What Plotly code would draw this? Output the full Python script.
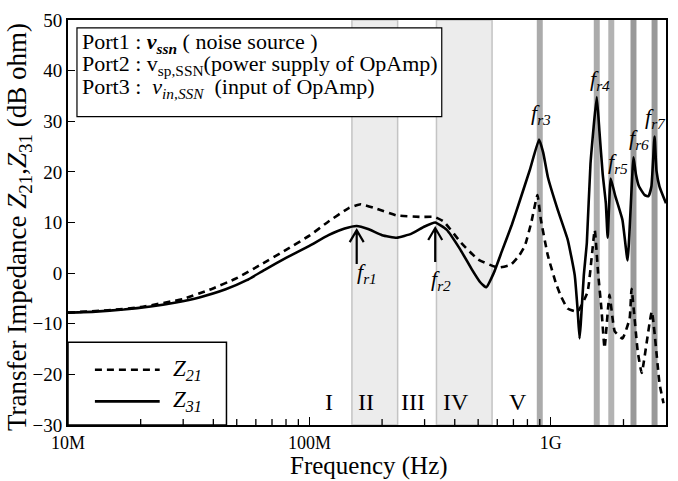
import math
import plotly.graph_objects as go

# ---------------- data ----------------
freq_z31 = [1.0e7, 1.3e7, 1.7e7, 2.2e7, 2.8e7, 3.5e7, 4.5e7, 5.5e7, 6.5e7, 8.0e7,
            1.0e8, 1.2e8, 1.4e8, 1.57e8, 1.75e8, 2.0e8, 2.3e8, 2.65e8, 3.0e8, 3.32e8,
            3.7e8, 4.2e8, 4.7e8, 5.1e8, 5.4e8, 5.8e8, 6.3e8, 6.9e8, 7.45e8, 8.2e8,
            8.94e8, 9.3e8, 9.72e8, 1.07e9, 1.175e9, 1.256e9, 1.29e9, 1.315e9, 1.33e9, 1.37e9,
            1.41e9, 1.46e9, 1.55e9, 1.59e9, 1.64e9, 1.69e9, 1.72e9, 1.77e9, 1.85e9, 1.98e9,
            2.08e9, 2.2e9, 2.25e9, 2.32e9, 2.45e9, 2.54e9, 2.61e9, 2.69e9, 2.74e9, 2.82e9,
            3.0e9]
z31 = [-7.8, -7.6, -7.2, -6.6, -5.8, -4.8, -3.2, -1.4, 0.6, 3.0,
       5.4, 7.5, 8.8, 9.3, 8.7, 7.5, 7.0, 7.8, 9.2, 10.0,
       8.6, 4.8, 0.8, -1.8, -2.8, 0.0, 4.6, 9.6, 14.4, 20.5,
       26.4, 23.8, 19.0, 12.4, 6.6, -0.4, -7.0, -12.9, -10.1, -0.4,
       6.0, 21.6, 34.8, 28.0, 19.6, 13.8, 7.0, 18.7, 15.2, 10.5,
       2.5, 22.9, 19.6, 17.1, 15.4, 15.2, 17.1, 27.0, 20.2, 17.1,
       13.8]

freq_z21 = [1.0e7, 1.5e7, 2.0e7, 3.0e7, 3.85e7, 5.0e7, 6.2e7, 8.0e7, 1.0e8, 1.2e8,
            1.45e8, 1.63e8, 1.9e8, 2.3e8, 2.9e8, 3.3e8, 3.6e8, 4.25e8, 5.0e8, 6.04e8,
            6.84e8, 7.4e8, 7.81e8, 8.3e8, 8.8e8, 9.1e8, 9.72e8, 1.05e9, 1.1e9, 1.175e9,
            1.29e9, 1.42e9, 1.52e9, 1.57e9, 1.62e9, 1.67e9, 1.75e9, 1.84e9, 1.98e9, 2.12e9,
            2.16e9, 2.29e9, 2.38e9, 2.62e9, 2.82e9, 2.93e9]
z21 = [-7.8, -7.3, -6.7, -5.1, -3.3, -1.0, 1.5, 4.6, 7.4, 10.2,
       12.8, 13.6, 12.7, 11.4, 11.1, 11.1, 10.2, 6.0, 2.7, 1.1,
       1.7, 3.5, 5.4, 10.0, 15.4, 10.5, 3.5, -2.0, -4.5, -7.0,
       -7.6, -3.7, 8.5, 0.0, -7.0, -14.8, -4.3, -11.5, -12.9, -9.0,
       -3.1, -15.4, -19.7, -7.6, -21.8, -25.7]

x_tick_vals = [1e7, 1e8, 1e9]
x_tick_text = ["10M", "100M", "1G"]
x_minor_tick_vals = [2e7, 3e7, 4e7, 5e7, 6e7, 7e7, 8e7, 9e7,
                     2e8, 3e8, 4e8, 5e8, 6e8, 7e8, 8e8, 9e8, 2e9]
y_tick_vals = [-30, -20, -10, 0, 10, 20, 30, 40, 50]

region_bands = [(1.50e8, 2.32e8), (3.36e8, 5.71e8)]
region_names = ["I", "II", "III", "IV", "V"]
region_name_freqs = [1.20e8, 1.71e8, 2.69e8, 4.05e8, 7.31e8]

res_band_freqs = [0.90e9, 1.55e9, 1.78e9, 2.20e9, 2.69e9]
res_band_colors = ["#ababab", "#ababab", "#b3b3b3", "#999999", "#999999"]

fr_arrow_freqs = [1.57e8, 3.32e8]
fr_label_names = ["r1", "r2", "r3", "r4", "r5", "r6", "r7"]
fr_label_freqs = [1.73e8, 3.52e8, 0.91e9, 1.60e9, 1.89e9, 2.31e9, 2.71e9]
fr_label_vals = [0.0, -1.4, 31.5, 38.2, 21.7, 26.4, 30.6]

FONT = "Liberation Serif, Times New Roman, serif"

# plot-area pixel frame (for placing decorations)
L, R, T, B = 68, 668, 14, 425


def px_x(p):
    return (p - L) / (R - L)


def px_y(p):
    return 1 - (p - T) / (B - T)


fig = go.Figure()
fig.add_trace(go.Scatter(x=freq_z21, y=z21, mode="lines", name="Z21",
                         line=dict(color="black", width=2.6, dash="7px,5px",
                                   shape="spline", smoothing=0.4)))
fig.add_trace(go.Scatter(x=freq_z31, y=z31, mode="lines", name="Z31",
                         line=dict(color="black", width=2.6,
                                   shape="spline", smoothing=0.4)))

shapes = []
for f0, f1 in region_bands:
    shapes.append(dict(type="rect", xref="x", yref="paper", x0=f0, x1=f1, y0=0, y1=1,
                       fillcolor="#ececec", line=dict(color="#c4c4c4", width=1.5),
                       layer="below"))
for f, c in zip(res_band_freqs, res_band_colors):
    k = 10 ** (3 / 242.5)
    shapes.append(dict(type="rect", xref="x", yref="paper", x0=f / k, x1=f * k, y0=0, y1=1,
                       fillcolor=c, line=dict(width=0), layer="below"))
# info box
shapes.append(dict(type="rect", xref="paper", yref="paper",
                   x0=px_x(77), x1=px_x(443), y0=px_y(112), y1=px_y(22),
                   fillcolor="white", line=dict(color="black", width=1.2), layer="below"))
# legend box
shapes.append(dict(type="rect", xref="paper", yref="paper",
                   x0=0, x1=px_x(227), y0=0, y1=px_y(341),
                   fillcolor="white", line=dict(color="black", width=1.5), layer="below"))
shapes.append(dict(type="line", xref="paper", yref="paper",
                   x0=px_x(95), x1=px_x(160), y0=px_y(369), y1=px_y(369),
                   line=dict(color="black", width=2.6, dash="7px,5px")))
shapes.append(dict(type="line", xref="paper", yref="paper",
                   x0=px_x(95), x1=px_x(160), y0=px_y(401), y1=px_y(401),
                   line=dict(color="black", width=2.6)))
# minor ticks on the frequency axis
for f in x_minor_tick_vals:
    shapes.append(dict(type="line", xref="x", yref="paper",
                       x0=f, x1=f, y0=0, y1=px_y(B - 6), layer="above",
                       line=dict(color="black", width=1.3)))
# arrows for fr1, fr2
for f, tip in zip(fr_arrow_freqs, [8.5, 8.9]):
    shapes.append(dict(type="path", xref="x", yref="y", xsizemode="pixel", ysizemode="pixel",
                       xanchor=f, yanchor=tip,
                       path="M0,0 L0,-34 M-7,-12 L0,0 L7,-12",
                       line=dict(color="black", width=2.2)))

annotations = []
port_lines = [
    "Port1 : <b><i>v</i></b><sub><b><i>ssn</i></b></sub> ( noise source )",
    "Port2 : v<sub>sp,SSN</sub>(power supply of OpAmp)",
    "Port3 :  <i>v</i><sub><i>in,SSN</i></sub>  (input of OpAmp)",
]
for txt, py in zip(port_lines, [37, 60, 83]):
    annotations.append(dict(text=txt, xref="paper", yref="paper", x=px_x(80), y=px_y(py),
                            xanchor="left", yanchor="middle", showarrow=False,
                            font=dict(family=FONT, size=22, color="black")))
for name, py in zip(["21", "31"], [369, 401]):
    annotations.append(dict(text="<i>Z</i><sub><i>" + name + "</i></sub>", xref="paper", yref="paper",
                            x=px_x(171), y=px_y(py), xanchor="left", yanchor="middle",
                            showarrow=False, font=dict(family=FONT, size=23, color="black")))
for name, f in zip(region_names, region_name_freqs):
    annotations.append(dict(text=name, xref="x", yref="y", x=math.log10(f), y=-25.5,
                            xanchor="center", yanchor="middle",
                            showarrow=False, font=dict(family=FONT, size=24, color="black")))
for name, f, v in zip(fr_label_names, fr_label_freqs, fr_label_vals):
    annotations.append(dict(text="<i>f</i><sub><i>" + name + "</i></sub>", xref="x", yref="y",
                            x=math.log10(f), y=v, xanchor="center", yanchor="middle",
                            showarrow=False, font=dict(family=FONT, size=22, color="black")))
# axis titles
annotations.append(dict(text="Transfer Impedance <i>Z</i><sub>21</sub>,<i>Z</i><sub>31</sub> (dB ohm)",
                        xref="paper", yref="paper", x=px_x(19), y=px_y(224), textangle=-90,
                        xanchor="center", yanchor="middle",
                        showarrow=False, font=dict(family=FONT, size=27, color="black")))
annotations.append(dict(text="Frequency (Hz)", xref="paper", yref="paper", x=px_x(370), y=px_y(467),
                        xanchor="center", yanchor="middle",
                        showarrow=False, font=dict(family=FONT, size=25, color="black")))

fig.update_layout(
    width=678, height=481,
    margin=dict(l=L, r=678 - R, t=T, b=481 - B),
    paper_bgcolor="white", plot_bgcolor="white",
    showlegend=False,
    shapes=shapes, annotations=annotations,
    font=dict(family=FONT, color="black"),
)
fig.update_xaxes(type="log", range=[7, math.log10(3e9)], tickmode="array",
                 tickvals=x_tick_vals, ticktext=x_tick_text,
                 ticks="inside", ticklen=8, tickwidth=1.4, tickcolor="black",
                 showgrid=False, zeroline=False, showline=True, linecolor="black", linewidth=2,
                 mirror=True, tickfont=dict(family=FONT, size=18, color="black"))
fig.update_yaxes(range=[-30, 50], tickvals=y_tick_vals,
                 ticks="inside", ticklen=7, tickwidth=1.4, tickcolor="black",
                 showgrid=False, zeroline=False, showline=True, linecolor="black", linewidth=2,
                 mirror=True, tickfont=dict(family=FONT, size=19, color="black"))

fig.write_html("out.html")
